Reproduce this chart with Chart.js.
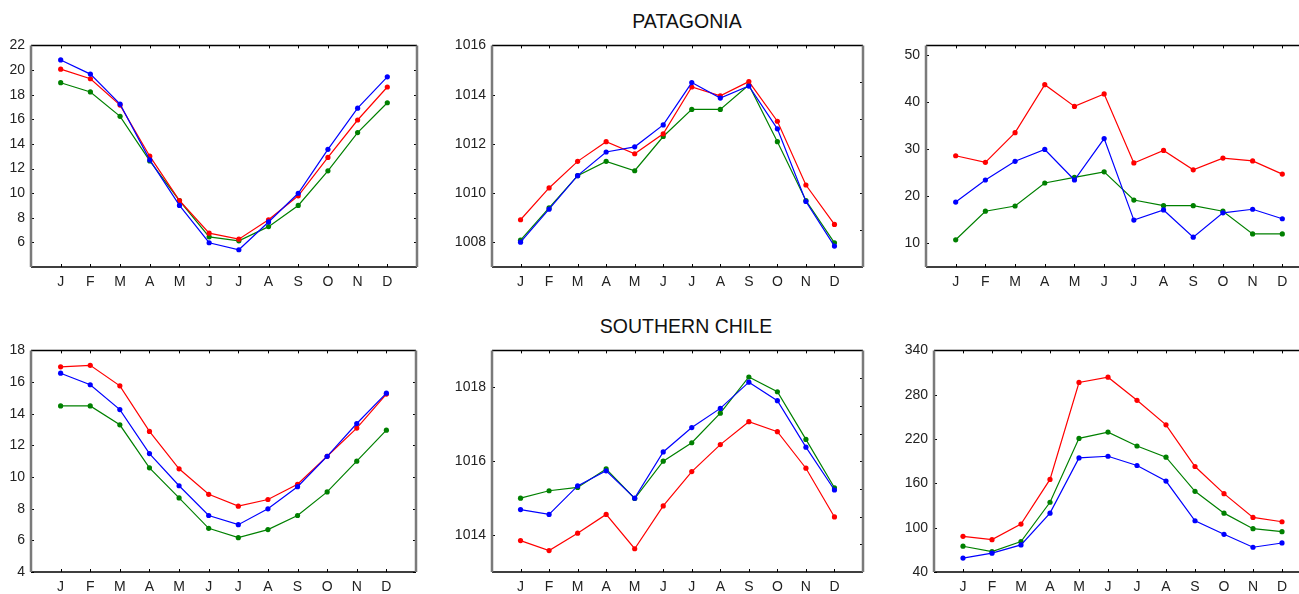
<!DOCTYPE html>
<html>
<head>
<meta charset="utf-8">
<script src="https://cdn.jsdelivr.net/npm/chart.js@4/dist/chart.umd.min.js"></script>
<style>
  html, body { margin: 0; padding: 0; background: #fff; width: 1299px; height: 594px; overflow: hidden; }
  body { position: relative; font-family: "Liberation Sans", Arial, sans-serif; }
  canvas { position: absolute; }
  .title { position: absolute; font-size: 19.5px; color: #111; transform: translate(-50%, -50%); white-space: nowrap; }
</style>
</head>
<body>
<div class="title" style="left:687px; top:21px;">PATAGONIA</div>
<div class="title" style="left:686px; top:326px;">SOUTHERN CHILE</div>
<canvas id="c1"></canvas>
<canvas id="c2"></canvas>
<canvas id="c3"></canvas>
<canvas id="c4"></canvas>
<canvas id="c5"></canvas>
<canvas id="c6"></canvas>
<script>
const months = ["J", "F", "M", "A", "M", "J", "J", "A", "S", "O", "N", "D"];

// Patagonia - temperature
const patTempRed   = [20.07, 19.29, 17.15, 13.0, 9.4, 6.75, 6.26, 7.84, 9.78, 12.9, 15.94, 18.62];
const patTempBlue  = [20.82, 19.67, 17.23, 12.7, 9.0, 5.97, 5.4, 7.66, 9.99, 13.56, 16.9, 19.45];
const patTempGreen = [18.97, 18.22, 16.24, 12.62, 9.4, 6.45, 6.13, 7.28, 9.0, 11.81, 14.92, 17.34];
const patTempTicks = [6, 8, 10, 12, 14, 16, 18, 20, 22];

// Patagonia - pressure
const patPresRed   = [1008.92, 1010.21, 1011.29, 1012.09, 1011.6, 1012.41, 1014.31, 1013.95, 1014.53, 1012.92, 1010.33, 1008.73];
const patPresBlue  = [1008.01, 1009.35, 1010.71, 1011.67, 1011.88, 1012.77, 1014.49, 1013.86, 1014.35, 1012.61, 1009.66, 1007.85];
const patPresGreen = [1008.09, 1009.4, 1010.71, 1011.29, 1010.91, 1012.3, 1013.4, 1013.4, 1014.39, 1012.09, 1009.7, 1007.98];
const patPresTicks = [1008, 1010, 1012, 1014, 1016];
const patPresRightTicks = [1008.5, 1010, 1011.5, 1013, 1014.5];

// Patagonia - precipitation
const patPrecRed   = [28.6, 27.2, 33.5, 43.66, 39.06, 41.7, 27.07, 29.72, 25.6, 28.1, 27.5, 24.7];
const patPrecBlue  = [18.78, 23.45, 27.42, 29.93, 23.45, 32.23, 14.95, 17.1, 11.32, 16.48, 17.25, 15.23];
const patPrecGreen = [10.77, 16.83, 17.94, 22.82, 24.0, 25.19, 19.2, 18.0, 18.0, 16.83, 12.02, 12.02];
const patPrecTicks = [10, 20, 30, 40, 50];

// Southern Chile - temperature
const chiTempRed   = [16.96, 17.06, 15.76, 12.88, 10.52, 8.91, 8.16, 8.58, 9.54, 11.31, 13.09, 15.24];
const chiTempBlue  = [16.56, 15.83, 14.26, 11.48, 9.45, 7.57, 6.99, 7.99, 9.39, 11.31, 13.38, 15.3];
const chiTempGreen = [14.49, 14.49, 13.3, 10.58, 8.68, 6.76, 6.17, 6.68, 7.57, 9.06, 11.0, 12.96];
const chiTempTicks = [4, 6, 8, 10, 12, 14, 16, 18];

// Southern Chile - pressure
const chiPresRed   = [1013.85, 1013.58, 1014.05, 1014.56, 1013.63, 1014.79, 1015.72, 1016.45, 1017.07, 1016.8, 1015.81, 1014.49];
const chiPresBlue  = [1014.69, 1014.56, 1015.33, 1015.74, 1015.0, 1016.25, 1016.91, 1017.43, 1018.14, 1017.64, 1016.38, 1015.22];
const chiPresGreen = [1015.0, 1015.2, 1015.29, 1015.79, 1014.99, 1016.0, 1016.5, 1017.3, 1018.28, 1017.88, 1016.59, 1015.28];
const chiPresTicks = [1014, 1016, 1018];
const chiPresRightTicks = [1013.75, 1014.5, 1015.25, 1016, 1016.75, 1017.5, 1018.25];

// Southern Chile - precipitation
const chiPrecRed   = [88.3, 83.8, 104.9, 165.3, 296.6, 303.7, 272.4, 239.2, 182.8, 146.1, 113.9, 108.0];
const chiPrecBlue  = [58.8, 65.5, 76.7, 119.7, 194.5, 196.7, 184.2, 163.1, 109.4, 91.0, 73.5, 79.3];
const chiPrecGreen = [74.9, 67.7, 81.2, 134.4, 220.9, 229.4, 210.6, 195.4, 149.2, 119.7, 98.6, 94.6];
const chiPrecTicks = [40, 100, 160, 220, 280, 340];

const AXIS_W = 60, AXIS_H = 30, PAD = 12;

// box frame with small inward tick marks
const framePlugin = {
  id: "frame",
  afterDraw(chart, args, opts) {
    const { ctx, chartArea } = chart;
    const { left, top, right, bottom } = chartArea;
    const x = chart.scales.x, y = chart.scales.y;
    ctx.save();
    ctx.strokeStyle = "#000";
    ctx.lineWidth = 1;
    ctx.beginPath();
    x.ticks.forEach(t => {
      const px = Math.round(x.getPixelForValue(t.value)) + 0.5;
      ctx.moveTo(px, top); ctx.lineTo(px, top + 3);
      ctx.moveTo(px, bottom); ctx.lineTo(px, bottom - 3);
    });
    y.ticks.forEach(t => {
      const py = Math.round(y.getPixelForValue(t.value)) + 0.5;
      ctx.moveTo(left, py); ctx.lineTo(left + 3, py);
    });
    (opts.right || y.ticks.map(t => t.value)).forEach(v => {
      const py = Math.round(y.getPixelForValue(v)) + 0.5;
      ctx.moveTo(right, py); ctx.lineTo(right - 3, py);
    });
    ctx.stroke();

    ctx.lineWidth = 1.5;
    ctx.beginPath();
    ctx.moveTo(left, top); ctx.lineTo(right, top);
    ctx.moveTo(left, bottom); ctx.lineTo(right, bottom);
    ctx.stroke();

    ctx.strokeStyle = "#7a7a7a";
    ctx.lineWidth = 2.5;
    ctx.beginPath();
    ctx.moveTo(left, top); ctx.lineTo(left, bottom);
    ctx.moveTo(right, top); ctx.lineTo(right, bottom);
    ctx.stroke();
    ctx.restore();
  }
};

function series(values, color) {
  return {
    data: values.map((v, i) => ({ x: i, y: v })),
    borderColor: color,
    backgroundColor: color,
    borderWidth: 1.2,
    pointRadius: 2.6,
    pointBorderWidth: 0,
    pointBackgroundColor: color,
    tension: 0
  };
}

function makeChart(id, box, red, blue, green, yMin, yMax, yTicks, rightTicks) {
  const canvas = document.getElementById(id);
  const w = box.r - box.l + AXIS_W + PAD;
  const h = box.b - box.t + AXIS_H + PAD;
  canvas.width = w;
  canvas.height = h;
  canvas.style.left = (box.l - AXIS_W) + "px";
  canvas.style.top = (box.t - PAD) + "px";
  canvas.style.width = w + "px";
  canvas.style.height = h + "px";

  const font = { family: "'Liberation Sans', Arial, sans-serif", size: 14 };

  return new Chart(canvas.getContext("2d"), {
    type: "line",
    data: {
      datasets: [series(blue, "#0000ff"), series(red, "#ff0000"), series(green, "#008000")]
    },
    options: {
      responsive: false,
      animation: false,
      devicePixelRatio: 1,
      layout: { padding: { top: PAD, right: PAD, left: 0, bottom: 0 } },
      plugins: {
        legend: { display: false },
        tooltip: { enabled: false },
        frame: { right: rightTicks }
      },
      scales: {
        x: {
          type: "linear",
          min: -1,
          max: 12,
          afterBuildTicks: s => { s.ticks = months.map((m, i) => ({ value: i })); },
          afterFit: s => { s.height = AXIS_H; },
          grid: { display: true, drawOnChartArea: false, drawTicks: false, color: "transparent" },
          border: { display: false },
          ticks: {
            autoSkip: false,
            maxRotation: 0,
            padding: 7,
            color: "#222",
            font: font,
            callback: v => months[v] || ""
          }
        },
        y: {
          min: yMin,
          max: yMax,
          afterBuildTicks: s => { s.ticks = yTicks.map(v => ({ value: v })); },
          afterFit: s => { s.width = AXIS_W; },
          grid: { display: true, drawOnChartArea: false, drawTicks: false, color: "transparent" },
          border: { display: false },
          ticks: { padding: 6, color: "#222", font: font, callback: v => String(v) }
        }
      }
    },
    plugins: [framePlugin]
  });
}

makeChart("c1", { l: 31, t: 43, r: 417, b: 267 }, patTempRed, patTempBlue, patTempGreen, 4, 22, patTempTicks);
makeChart("c2", { l: 492, t: 43, r: 863, b: 267 }, patPresRed, patPresBlue, patPresGreen, 1007, 1016, patPresTicks, patPresRightTicks);
makeChart("c3", { l: 926, t: 43, r: 1312, b: 267 }, patPrecRed, patPrecBlue, patPrecGreen, 5, 52, patPrecTicks);
makeChart("c4", { l: 31, t: 348, r: 416, b: 572 }, chiTempRed, chiTempBlue, chiTempGreen, 4, 18, chiTempTicks);
makeChart("c5", { l: 492, t: 348, r: 863, b: 572 }, chiPresRed, chiPresBlue, chiPresGreen, 1013, 1019, chiPresTicks, chiPresRightTicks);
makeChart("c6", { l: 934, t: 348, r: 1311, b: 572 }, chiPrecRed, chiPrecBlue, chiPrecGreen, 40, 340, chiPrecTicks);
</script>
</body>
</html>
